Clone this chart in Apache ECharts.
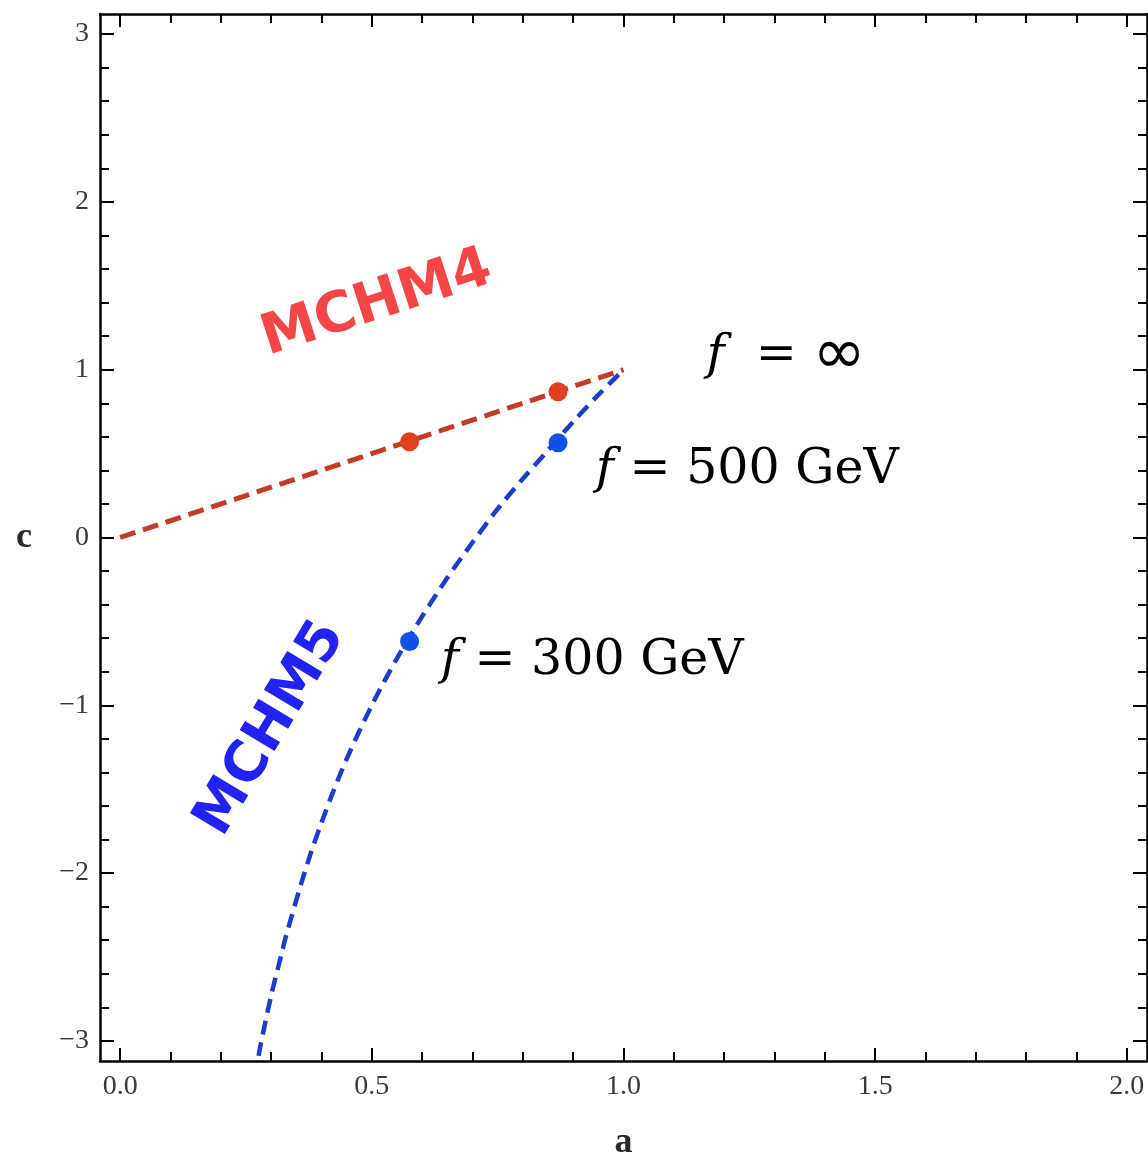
<!DOCTYPE html>
<html>
<head>
<meta charset="utf-8">
<script src="https://cdn.jsdelivr.net/npm/echarts@6/dist/echarts.min.js"></script>
<style>
  html, body { margin: 0; padding: 0; background: #fff; }
  #chart { width: 1148px; height: 1160px; }
</style>
</head>
<body>
<div id="chart"></div>
<script>
// MCHM4: straight line c = a
const mchm4A = [0.0, 0.25, 0.5, 0.75, 1.0];
const mchm4C = [0.0, 0.25, 0.5, 0.75, 1.0];

// MCHM5 curve
const mchm5A = [0.275, 0.28, 0.30, 0.32, 0.33, 0.36, 0.38, 0.40, 0.42, 0.45, 0.50, 0.55, 0.60, 0.65, 0.70, 0.75, 0.80, 0.85, 0.90, 0.95, 1.00];
const mchm5C = [-3.09, -3.01, -2.73, -2.49, -2.37, -2.06, -1.87, -1.70, -1.54, -1.32, -1.00, -0.72, -0.47, -0.24, -0.03, 0.17, 0.35, 0.52, 0.69, 0.85, 1.00];

// benchmark points (f = 300 GeV, f = 500 GeV)
const mchm4PtA = [0.575, 0.870];
const mchm4PtC = [0.571, 0.869];
const mchm5PtA = [0.575, 0.870];
const mchm5PtC = [-0.62, 0.565];

// axis ticks
const xMajor = [0, 0.5, 1, 1.5, 2];
const xMinor = [0.1, 0.2, 0.3, 0.4, 0.6, 0.7, 0.8, 0.9, 1.1, 1.2, 1.3, 1.4, 1.6, 1.7, 1.8, 1.9];
const yMajor = [-3, -2, -1, 0, 1, 2, 3];
const yMinor = [-2.8, -2.6, -2.4, -2.2, -1.8, -1.6, -1.4, -1.2, -0.8, -0.6, -0.4, -0.2,
                0.2, 0.4, 0.6, 0.8, 1.2, 1.4, 1.6, 1.8, 2.2, 2.4, 2.6, 2.8];

const xLabels = ['0.0', '0.5', '1.0', '1.5', '2.0'];
const yLabels = ['\u22123', '\u22122', '\u22121', '0', '1', '2', '3'];

const annoTexts = ['\u221E', '500 GeV', '300 GeV'];

const zip = (a, b) => a.map((v, i) => [v, b[i]]);

const X_MIN = -0.04, X_MAX = 2.04, Y_MIN = -3.12, Y_MAX = 3.12;
const tickFont = { fontFamily: 'Liberation Serif', fontSize: 28, color: '#3a3a3a' };
const nameFont = { fontFamily: 'Liberation Serif', fontSize: 36, fontWeight: 'bold', color: '#2a2a2a' };

function xAxisDef(pos, ticks, len, withLabels, withLine, name) {
  return {
    type: 'value', position: pos, min: X_MIN, max: X_MAX,
    name: name || '', nameLocation: 'middle', nameGap: 64, nameTextStyle: nameFont,
    axisLine: { show: withLine, onZero: false, lineStyle: { color: '#000', width: 2.5 } },
    axisTick: { show: true, inside: true, length: len, customValues: ticks, lineStyle: { color: '#000', width: 2 } },
    axisLabel: withLabels ? Object.assign({
      show: true, margin: 12, customValues: xMajor,
      formatter: v => xLabels[xMajor.findIndex(t => Math.abs(t - v) < 1e-9)]
    }, tickFont) : { show: false },
    splitLine: { show: false }
  };
}
function yAxisDef(pos, ticks, len, withLabels, withLine, name) {
  return {
    type: 'value', position: pos, min: Y_MIN, max: Y_MAX,
    name: name || '', nameLocation: 'middle', nameGap: 68, nameRotate: 0, nameTextStyle: nameFont,
    axisLine: { show: withLine, onZero: false, lineStyle: { color: '#000', width: 2.5 } },
    axisTick: { show: true, inside: true, length: len, customValues: ticks, lineStyle: { color: '#000', width: 2 } },
    axisLabel: withLabels ? Object.assign({
      show: true, margin: 11, customValues: yMajor,
      formatter: v => yLabels[yMajor.findIndex(t => Math.abs(t - v) < 1e-9)]
    }, tickFont) : { show: false },
    splitLine: { show: false }
  };
}

const annoRich = {
  i: { fontFamily: 'DejaVu Serif', fontStyle: 'italic', fontSize: 49, color: '#000' },
  t: { fontFamily: 'DejaVu Serif', fontSize: 49, color: '#000' },
  inf: { fontFamily: 'DejaVu Sans', fontSize: 64, color: '#000' }
};
function anno(a, c, txt, big) {
  return {
    value: [a, c],
    label: { formatter: big ? '{i|f}{t|  = }{inf|' + txt + '}' : '{i|f}{t| = ' + txt + '}' }
  };
}

const chart = echarts.init(document.getElementById('chart'), null, { renderer: 'canvas' });
chart.setOption({
  animation: false,
  backgroundColor: '#fff',
  grid: { left: 100, top: 14, width: 1047, height: 1047, containLabel: false, outerBoundsMode: 'none' },
  xAxis: [
    xAxisDef('bottom', xMajor, 13, true, true, 'a'),
    xAxisDef('bottom', xMinor, 9, false, false),
    xAxisDef('top', xMajor, 13, false, true),
    xAxisDef('top', xMinor, 9, false, false)
  ],
  yAxis: [
    yAxisDef('left', yMajor, 14, true, true, 'c'),
    yAxisDef('left', yMinor, 9, false, false),
    yAxisDef('right', yMajor, 14, false, true),
    yAxisDef('right', yMinor, 9, false, false)
  ],
  series: [
    {
      name: 'MCHM4', type: 'line', data: zip(mchm4A, mchm4C), showSymbol: false, symbol: 'none',
      lineStyle: { color: '#c63a28', width: 5, type: [16, 8], cap: 'butt' }, z: 3
    },
    {
      name: 'MCHM5', type: 'line', data: zip(mchm5A, mchm5C), smooth: 0.3, showSymbol: false, symbol: 'none',
      lineStyle: { color: '#1c3ccc', width: 4.5, type: [14, 8], cap: 'butt' }, z: 3
    },
    {
      name: 'MCHM4 points', type: 'scatter', data: zip(mchm4PtA, mchm4PtC), symbolSize: 19,
      itemStyle: { color: '#e0401f', opacity: 1 }, z: 5
    },
    {
      name: 'MCHM5 points', type: 'scatter', data: zip(mchm5PtA, mchm5PtC), symbolSize: 19,
      itemStyle: { color: '#1250e8', opacity: 1 }, z: 5
    },
    {
      name: 'annotations', type: 'scatter', symbolSize: 0, silent: true,
      itemStyle: { opacity: 1 },
      label: { show: true, position: 'right', distance: 0, align: 'left', verticalAlign: 'middle', color: '#000', rich: annoRich },
      data: [
        anno(1.165, 1.08, annoTexts[0], true),
        anno(0.945, 0.40, annoTexts[1]),
        anno(0.637, -0.74, annoTexts[2])
      ]
    },
    {
      name: 'model names', type: 'scatter', symbolSize: 0, silent: true,
      itemStyle: { opacity: 1 },
      label: { show: true, position: 'inside', fontFamily: 'DejaVu Sans', fontWeight: 'bold', fontSize: 56 },
      data: [
        { value: [0.51, 1.39], label: { formatter: 'MCHM4', rotate: 18, color: '#f44646' } },
        { value: [0.30, -1.14], label: { formatter: 'MCHM5', rotate: 59, color: '#2222f4' } }
      ]
    }
  ]
});
</script>
</body>
</html>
